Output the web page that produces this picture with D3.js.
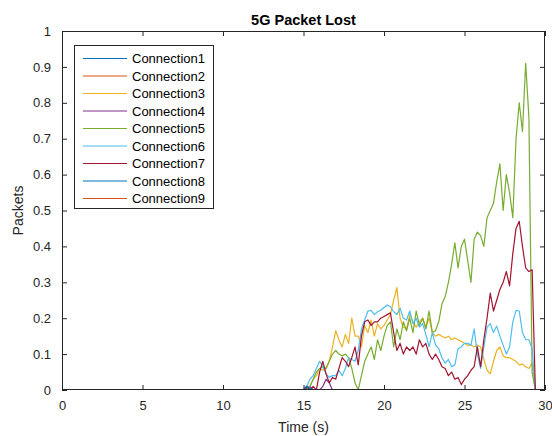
<!DOCTYPE html>
<html>
<head>
<meta charset="utf-8">
<script src="https://cdn.jsdelivr.net/npm/d3@7"></script>
<style>
  html, body { margin: 0; padding: 0; background: #ffffff; }
  svg { display: block; }
  text { font-family: "Liberation Sans", Arial, Helvetica, sans-serif; }
</style>
</head>
<body>
<svg id="chart" width="552" height="436"></svg>
<script>
// ---------------- data ----------------
const title = "5G Packet Lost";
const xLabel = "Time (s)";
const yLabel = "Packets";
const xTicks = [0, 5, 10, 15, 20, 25, 30];
const yTicks = [0, 0.1, 0.2, 0.3, 0.4, 0.5, 0.6, 0.7, 0.8, 0.9, 1];
const seriesNames = ["Connection1","Connection2","Connection3","Connection4","Connection5",
                     "Connection6","Connection7","Connection8","Connection9"];
const seriesColors = ["#0072BD","#D95319","#EDB120","#7E2F8E","#77AC30",
                      "#4DBEEE","#A2142F","#0072BD","#D95319"];

// time samples (s)
const times = [0,
 15.0,15.2,15.4,15.6,15.8,16.0,16.2,16.4,16.6,16.8,
 17.0,17.2,17.4,17.6,17.8,18.0,18.2,18.4,18.6,18.8,
 19.0,19.2,19.4,19.6,19.8,20.0,20.2,20.4,20.6,20.8,
 21.0,21.2,21.4,21.6,21.8,22.0,22.2,22.4,22.6,22.8,
 23.0,23.2,23.4,23.6,23.8,24.0,24.2,24.4,24.6,24.8,
 25.0,25.2,25.4,25.6,25.8,26.0,26.2,26.4,26.6,26.8,
 27.0,27.2,27.4,27.6,27.8,28.0,28.2,28.4,28.6,28.8,
 29.0,29.2,29.4];

const connection1 = [0,
 0,0.01,0,0,0,0,0,0,0,0,
 0,0,0,0,0,0,0,0,0,0,
 0,0,0,0,0,0,0,0,0,0,
 0,0,0,0,0,0,0,0,0,0,
 0,0,0,0,0,0,0,0,0,0,
 0,0,0,0,0,0,0,0,0,0,
 0,0,0,0,0,0,0,0,0,0,
 0,0,0];
const connection2 = [0,
 0,0,0,0,0,0,0,0,0,0,
 0,0,0,0,0,0,0,0,0,0,
 0,0,0,0,0,0,0,0,0,0,
 0,0,0,0,0,0,0,0,0,0,
 0,0,0,0,0,0,0,0,0,0,
 0,0,0,0,0,0,0,0,0,0,
 0,0,0,0,0,0,0,0,0,0,
 0,0,0];
const connection3 = [0,
 0,0,0.01,0.03,0.04,0.06,0.055,0.06,0.08,0.12,
 0.165,0.14,0.12,0.155,0.13,0.2,0.15,0.15,0.12,0.18,
 0.16,0.195,0.15,0.185,0.17,0.18,0.195,0.21,0.25,0.285,
 0.2,0.175,0.17,0.21,0.19,0.175,0.19,0.2,0.175,0.2,
 0.16,0.15,0.155,0.15,0.145,0.15,0.14,0.145,0.14,0.135,
 0.13,0.125,0.125,0.12,0.125,0.12,0.085,0.055,0.045,0.08,
 0.11,0.12,0.095,0.09,0.09,0.085,0.08,0.07,0.072,0.065,
 0.06,0.075,0];
const connection4 = [0,
 0,0.005,0.01,0,0,0,0.01,0.03,0.02,0,
 0,0,0,0,0,0,0,0,0,0,
 0,0,0,0,0,0,0,0,0,0,
 0,0,0,0,0,0,0,0,0,0,
 0,0,0,0,0,0,0,0,0,0,
 0,0,0,0,0,0,0,0,0,0,
 0,0,0,0,0,0,0,0,0,0,
 0,0,0];
const connection5 = [0,
 0,0,0.01,0.03,0.05,0.06,0.065,0.06,0.08,0.1,
 0.11,0.1,0.095,0.1,0.09,0.06,0.02,0,0.04,0.08,
 0.1,0.12,0.085,0.14,0.11,0.15,0.18,0.19,0.12,0.17,
 0.14,0.19,0.165,0.2,0.16,0.22,0.18,0.2,0.17,0.22,
 0.16,0.165,0.19,0.24,0.26,0.3,0.35,0.41,0.34,0.4,
 0.42,0.36,0.3,0.42,0.44,0.43,0.4,0.48,0.5,0.52,
 0.58,0.63,0.5,0.6,0.55,0.48,0.7,0.8,0.72,0.91,
 0.76,0.05,0];
const connection6 = [0,
 0,0.01,0.03,0.04,0.06,0.08,0.065,0.045,0.035,0.04,
 0.04,0.055,0.04,0.06,0.09,0.085,0.08,0.11,0.17,0.195,
 0.22,0.222,0.21,0.218,0.222,0.23,0.237,0.232,0.218,0.21,
 0.228,0.2,0.195,0.22,0.185,0.2,0.175,0.185,0.155,0.12,
 0.16,0.125,0.115,0.09,0.075,0.085,0.065,0.07,0.115,0.12,
 0.13,0.13,0.125,0.17,0.1,0.06,0.12,0.175,0.185,0.16,
 0.178,0.15,0.125,0.1,0.12,0.19,0.222,0.22,0.16,0.14,
 0.14,0.115,0];
const connection7 = [0,
 0,0.01,0,0.01,0,0.05,0.08,0.045,0.02,0.035,
 0.03,0.06,0.09,0.08,0.065,0.09,0.12,0.07,0.15,0.19,
 0.195,0.18,0.19,0.19,0.2,0.205,0.21,0.215,0.16,0.11,
 0.13,0.1,0.12,0.11,0.12,0.1,0.14,0.12,0.13,0.1,
 0.085,0.1,0.085,0.065,0.06,0.04,0.05,0.03,0.035,0.015,
 0.03,0.04,0.055,0.065,0.12,0.065,0.14,0.2,0.27,0.22,
 0.25,0.28,0.3,0.33,0.29,0.38,0.45,0.47,0.4,0.34,
 0.33,0.335,0];
const connection8 = [0,
 0,0.01,0.005,0,0,0,0,0,0,0,
 0,0,0,0,0,0,0,0,0,0,
 0,0,0,0,0,0,0,0,0,0,
 0,0,0,0,0,0,0,0,0,0,
 0,0,0,0,0,0,0,0,0,0,
 0,0,0,0,0,0,0,0,0,0,
 0,0,0,0,0,0,0,0,0,0,
 0,0,0];
const connection9 = [0,
 0,0,0,0,0,0,0,0,0,0,
 0,0,0,0,0,0,0,0,0,0,
 0,0,0,0,0,0,0,0,0,0,
 0,0,0,0,0,0,0,0,0,0,
 0,0,0,0,0,0,0,0,0,0,
 0,0,0,0,0,0,0,0,0,0,
 0,0,0,0,0,0,0,0,0,0,
 0,0,0];

const seriesValues = [connection1, connection2, connection3, connection4, connection5,
                      connection6, connection7, connection8, connection9];

// ---------------- layout ----------------
const svg = d3.select("#chart");
const plot = { left: 62, right: 545, top: 31, bottom: 390 };
const axisColor = "#262626";

const x = d3.scaleLinear().domain([0, 30]).range([plot.left, plot.right]);
const y = d3.scaleLinear().domain([0, 1]).range([plot.bottom, plot.top]);

svg.append("rect").attr("x", 0).attr("y", 0).attr("width", 552).attr("height", 436).attr("fill", "#ffffff");

const clipId = "plotclip";
svg.append("defs").append("clipPath").attr("id", clipId)
  .append("rect").attr("x", plot.left).attr("y", plot.top - 1)
  .attr("width", plot.right - plot.left).attr("height", plot.bottom - plot.top + 1);

// lines
const line = d3.line().x((d, i) => x(times[i])).y(d => y(d));
const linesG = svg.append("g").attr("clip-path", `url(#${clipId})`);
seriesValues.forEach((vals, si) => {
  linesG.append("path")
    .datum(vals)
    .attr("d", line)
    .attr("fill", "none")
    .attr("stroke", seriesColors[si])
    .attr("stroke-width", 1.2)
    .attr("stroke-linejoin", "round");
});

// axes (ticks inside, box)
const tickLen = 5;
const fontSize = 13;
const xAxisB = d3.axisBottom(x).tickValues(xTicks).tickSize(-tickLen).tickPadding(tickLen + 6).tickFormat(d3.format("d"));
const xAxisT = d3.axisTop(x).tickValues(xTicks).tickSize(-tickLen).tickFormat("");
const yAxisL = d3.axisLeft(y).tickValues(yTicks).tickSize(-tickLen).tickPadding(tickLen + 6).tickFormat(d => d === 0 || d === 1 ? d3.format("d")(d) : d3.format(".1f")(d));
const yAxisR = d3.axisRight(y).tickValues(yTicks).tickSize(-tickLen).tickFormat("");

function styleAxis(g) {
  g.select(".domain").remove();
  g.selectAll(".tick line").attr("stroke", axisColor).attr("stroke-width", 1);
  g.selectAll(".tick text").attr("fill", axisColor).attr("font-size", fontSize)
    .attr("font-family", "Liberation Sans, Arial, sans-serif");
}
svg.append("g").attr("transform", `translate(0,${plot.bottom})`).call(xAxisB).call(styleAxis);
svg.append("g").attr("transform", `translate(0,${plot.top})`).call(xAxisT).call(styleAxis);
svg.append("g").attr("transform", `translate(${plot.left},0)`).call(yAxisL).call(styleAxis);
svg.append("g").attr("transform", `translate(${plot.right},0)`).call(yAxisR).call(styleAxis);

// box
svg.append("rect")
  .attr("x", plot.left + 0.5).attr("y", plot.top + 0.5)
  .attr("width", plot.right - plot.left - 1).attr("height", plot.bottom - plot.top - 1)
  .attr("fill", "none").attr("stroke", axisColor).attr("stroke-width", 1);

// title & labels
svg.append("text").attr("x", (plot.left + plot.right) / 2).attr("y", 25)
  .attr("text-anchor", "middle").attr("font-size", 14.5).attr("font-weight", "bold")
  .attr("fill", "#000").text(title);
svg.append("text").attr("x", (plot.left + plot.right) / 2).attr("y", 432)
  .attr("text-anchor", "middle").attr("font-size", 14).attr("fill", axisColor).text(xLabel);
svg.append("text").attr("transform", `translate(23,${(plot.top + plot.bottom) / 2}) rotate(-90)`)
  .attr("text-anchor", "middle").attr("font-size", 14).attr("fill", axisColor).text(yLabel);

// legend
const legend = { x: 74, y: 45, w: 139, h: 163, row0: 58.5, rowStep: 17.5 };
const lg = svg.append("g");
lg.append("rect").attr("x", legend.x + 0.5).attr("y", legend.y + 0.5)
  .attr("width", legend.w).attr("height", legend.h)
  .attr("fill", "#ffffff").attr("stroke", axisColor).attr("stroke-width", 1);
seriesNames.forEach((name, i) => {
  const yy = legend.row0 + i * legend.rowStep;
  lg.append("line").attr("x1", 83).attr("x2", 127).attr("y1", yy).attr("y2", yy)
    .attr("stroke", seriesColors[i]).attr("stroke-width", 1.2);
  lg.append("text").attr("x", 132).attr("y", yy).attr("dy", "0.35em")
    .attr("font-size", 13).attr("fill", "#000").text(name);
});
</script>
</body>
</html>
